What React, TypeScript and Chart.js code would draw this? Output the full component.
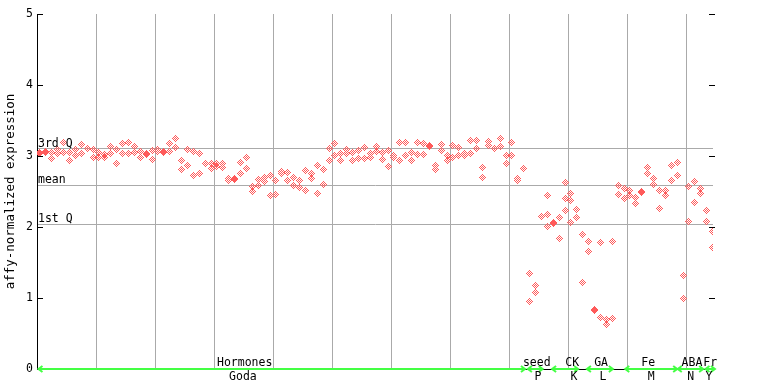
import React, { useEffect, useRef } from 'react';
import { Chart, registerables } from 'chart.js';

Chart.register(...registerables);

// replicate values per sample (index 0..114)
const sampleValues: number[][] = [
  [3.05, 3.04], [3.06, 3.05], [3.05, 2.97], [3.09, 3.03], [3.19, 3.05],
  [3.05, 2.94], [3.09, 3.01], [3.16, 3.04], [3.11, 3.10], [3.09, 2.98],
  [3.05, 2.98], [3.02, 2.98], [3.13, 3.04], [3.09, 2.90], [3.18, 3.03],
  [3.19, 3.03], [3.14, 3.05], [3.07, 2.98], [3.03, 3.02], [3.08, 2.95],
  [3.09, 3.07], [3.06, 3.05], [3.18, 3.06], [3.24, 3.12], [2.94, 2.81],
  [3.09, 2.87], [3.07, 2.73], [3.04, 2.75], [2.90, 2.89], [2.90, 2.83],
  [2.90, 2.85], [2.90, 2.84], [2.69, 2.66], [2.68, 2.67], [2.91, 2.76],
  [2.98, 2.83], [2.57, 2.50], [2.67, 2.59], [2.70, 2.64], [2.73, 2.45],
  [2.66, 2.46], [2.78, 2.76], [2.77, 2.65], [2.70, 2.58], [2.65, 2.55],
  [2.80, 2.52], [2.75, 2.69], [2.87, 2.47], [2.81, 2.60], [3.11, 2.93],
  [3.17, 3.01], [3.04, 2.93], [3.09, 3.04], [3.05, 2.94], [3.08, 2.97],
  [3.12, 2.97], [3.04, 2.98], [3.14, 3.06], [3.05, 2.95], [3.08, 2.85],
  [3.01, 2.98], [3.19, 2.93], [3.19, 3.01], [3.05, 2.93], [3.19, 3.02],
  [3.18, 3.02], [3.15, 3.14], [2.86, 2.81], [3.16, 3.08], [3.01, 2.93],
  [3.15, 2.98], [3.12, 3.01], [3.04, 3.01], [3.22, 3.04], [3.22, 3.11],
  [2.84, 2.70], [3.21, 3.15], [3.11, 3.10], [3.25, 3.14], [3.01, 2.90],
  [3.19, 3.01], [2.69, 2.66], [2.83, 2.82], [1.34, 0.95], [1.18, 1.08],
  [2.15], [2.44, 2.18, 2.01], [2.06, 2.05], [2.14, 1.84], [2.63, 2.40, 2.23],
  [2.47, 2.37, 2.07], [2.24, 2.14], [1.89, 1.22], [1.80, 1.66], [0.84, 0.83],
  [1.78, 0.73], [0.70, 0.63], [1.80, 0.71], [2.58, 2.46], [2.54, 2.40],
  [2.52, 2.45], [2.42, 2.33], [2.50, 2.49], [2.84, 2.75], [2.69, 2.60],
  [2.51, 2.26], [2.52, 2.44], [2.86, 2.66], [2.91, 2.73], [1.31, 1.00],
  [2.57, 2.08], [2.64, 2.35], [2.54, 2.47], [2.23, 2.08], [1.93, 1.71],
];

const yTickValues = [0, 1, 2, 3, 4, 5];
const xGridValues = [9.5, 19.5, 29.5, 39.5, 49.5, 59.5, 69.5, 79.5, 89.5, 99.5, 109.5];
const quartileValues = [2.038, 2.587, 3.103];
const quartileLabels = ['1st Q', 'mean', '3rd Q'];
const groupTop = ['Hormones', 'seed', 'CK', 'GA', 'Fe', 'ABA', 'Fr'];
const groupBottom = ['Goda', 'P', 'K', 'L', 'M', 'N', 'Y'];
const groupStart = [-0.25, 82.7, 86.8, 92.7, 99.2, 108.1, 112.8];
const groupEnd = [82.2, 85.2, 91.2, 97.1, 108.0, 112.4, 114.4];
const groupTopPos = [34.7, 84.2, 90.2, 95.1, 103.1, 110.5, 113.6];
const groupBottomPos = [34.4, 84.4, 90.5, 95.4, 103.6, 110.3, 113.4];
const axisTitle = 'affy-normalized expression';

const POINT_COLOR = '#ff5a5a';
const GRID_COLOR = '#aaaaaa';
const GREEN = '#44ff44';
const FONT = '"DejaVu Sans Mono", monospace';

export default function App() {
  const ref = useRef<HTMLCanvasElement>(null);

  useEffect(() => {
    document.body.style.margin = '0';
    const canvas = ref.current!;

    const marker = document.createElement('canvas');
    marker.width = 7;
    marker.height = 7;
    const mctx = marker.getContext('2d')!;
    mctx.fillStyle = POINT_COLOR;
    for (let dy = -3; dy <= 3; dy++) {
      for (let dx = -3; dx <= 3; dx++) {
        const d = Math.abs(dx) + Math.abs(dy);
        if (d <= 3 && d % 2 === 1) mctx.fillRect(dx + 3, dy + 3, 1, 1);
      }
    }

    const points: { x: number; y: number }[] = [];
    sampleValues.forEach((vals, i) => vals.forEach((v) => points.push({ x: i, y: v })));

    const overlay = {
      id: 'overlay',
      beforeDatasetsDraw(chart: any) {
        chart.ctx.imageSmoothingEnabled = false;
      },
      afterDatasetsDraw(chart: any) {
        chart.ctx.imageSmoothingEnabled = true;
      },
      afterDraw(chart: any) {
        const ctx = chart.ctx as CanvasRenderingContext2D;
        const xs = chart.scales.x;
        const ys = chart.scales.y;
        const { left, right, bottom } = chart.chartArea;
        ctx.save();
        // y ticks
        ctx.strokeStyle = '#000';
        ctx.lineWidth = 1;
        ctx.fillStyle = '#000';
        ctx.font = `11.5px ${FONT}`;
        ctx.textAlign = 'right';
        ctx.textBaseline = 'middle';
        yTickValues.forEach((v) => {
          const y = Math.round(ys.getPixelForValue(v)) + 0.5;
          ctx.beginPath();
          ctx.moveTo(left, y);
          ctx.lineTo(left + 6, y);
          ctx.moveTo(right - 4, y);
          ctx.lineTo(right + 2, y);
          ctx.stroke();
          ctx.fillText(String(v), 33, y);
        });
        // quartile labels
        ctx.textAlign = 'left';
        ctx.textBaseline = 'alphabetic';
        quartileValues.forEach((v, i) => {
          const y = ys.getPixelForValue(v);
          ctx.fillText(quartileLabels[i], left + 1, y - 2);
        });
        // axis title
        ctx.save();
        ctx.font = `12.5px ${FONT}`;
        ctx.translate(14, (chart.chartArea.top + bottom) / 2);
        ctx.rotate(-Math.PI / 2);
        ctx.textAlign = 'center';
        ctx.textBaseline = 'alphabetic';
        ctx.fillText(axisTitle, 0, 0);
        ctx.restore();
        // group arrows
        const ay = bottom;
        ctx.strokeStyle = GREEN;
        ctx.lineWidth = 2;
        groupStart.forEach((s, i) => {
          const x1 = xs.getPixelForValue(s);
          const x2 = xs.getPixelForValue(groupEnd[i]);
          ctx.beginPath();
          ctx.moveTo(x1, ay);
          ctx.lineTo(x2, ay);
          ctx.moveTo(x1 + 4, ay - 3);
          ctx.lineTo(x1, ay);
          ctx.lineTo(x1 + 4, ay + 3);
          ctx.moveTo(x2 - 4, ay - 3);
          ctx.lineTo(x2, ay);
          ctx.lineTo(x2 - 4, ay + 3);
          ctx.stroke();
        });
        // group labels
        ctx.fillStyle = '#000';
        ctx.font = `11.5px ${FONT}`;
        ctx.textAlign = 'center';
        groupTop.forEach((t, i) => {
          ctx.fillText(t, xs.getPixelForValue(groupTopPos[i]), ay - 3);
        });
        groupBottom.forEach((t, i) => {
          ctx.fillText(t, xs.getPixelForValue(groupBottomPos[i]), ay + 11);
        });
        ctx.restore();
      },
    };

    const chart = new Chart(canvas, {
      type: 'scatter',
      data: {
        datasets: [
          {
            data: points,
            pointStyle: marker as any,
            pointRadius: 3,
            pointHoverRadius: 3,
            showLine: false,
          },
        ],
      },
      options: {
        animation: false,
        responsive: false,
        devicePixelRatio: 1,
        events: [],
        layout: { padding: { left: 37, top: 14, right: 55, bottom: 15 } },
        plugins: { legend: { display: false }, tooltip: { enabled: false } },
        scales: {
          x: {
            type: 'linear',
            min: -0.5,
            max: 114.07,
            ticks: { display: false },
            grid: { color: GRID_COLOR, drawTicks: false },
            border: { color: '#000', width: 1 },
            afterFit: (s: any) => {
              s.height = 0;
            },
            afterBuildTicks: (s: any) => {
              s.ticks = xGridValues.map((v) => ({ value: v }));
            },
          },
          y: {
            type: 'linear',
            min: 0,
            max: 5,
            ticks: { display: false },
            grid: { color: GRID_COLOR, drawTicks: false },
            border: { color: '#000', width: 1 },
            afterFit: (s: any) => {
              s.width = 0;
            },
            afterBuildTicks: (s: any) => {
              s.ticks = quartileValues.map((v) => ({ value: v }));
            },
          },
        },
      },
      plugins: [overlay],
    });
    return () => chart.destroy();
  }, []);

  return <canvas ref={ref} width={768} height={384} style={{ display: 'block' }} />;
}
